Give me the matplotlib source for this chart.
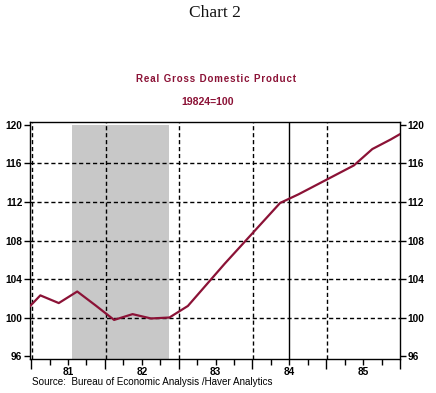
import numpy as np
import matplotlib
matplotlib.use("Agg")
from matplotlib import pyplot as plt

# quarterly real GDP index, 1982Q4 = 100
quarters = ['80Q4',
            '81Q1', '81Q2', '81Q3', '81Q4',
            '82Q1', '82Q2', '82Q3', '82Q4',
            '83Q1', '83Q2', '83Q3', '83Q4',
            '84Q1', '84Q2', '84Q3', '84Q4',
            '85Q1', '85Q2', '85Q3', '85Q4',
            '86Q1']
gdp = [100.3,
       102.3, 101.5, 102.7, 101.25,
       99.75, 100.35, 99.9, 100.0,
       101.2, 103.4, 105.6, 107.7,
       109.8, 111.9, 112.8, 113.8,
       114.8, 115.8, 117.5, 118.5,
       119.6]

years = [1981, 1982, 1983, 1984, 1985]
year_labels = ['81', '82', '83', '84', '85']
y_ticks = [96, 100, 104, 108, 112, 116, 120]
recession = (1981.55, 1982.87)
marker_year = 1984.5

wine = '#8b1236'

# quarter -> decimal year at mid-quarter
xq = [1900 + int(q[:2]) + (int(q[-1]) - 1) * 0.25 + 0.125 for q in quarters]

fig = plt.figure(figsize=(4.36, 3.93), dpi=100)
ax = fig.add_axes([30 / 436, 1 - 359 / 393, 370 / 436, 237 / 393])

ylo, yhi = 95.69, 120.31
ax.set_ylim(ylo, yhi)
ax.set_xlim(1980.985, 1986.0)

# recession shading up to 120
ax.axvspan(recession[0], recession[1], ymin=0, ymax=(120 - ylo) / (yhi - ylo),
           color='#c8c8c8', lw=0, zorder=0)

# grid
for yv in y_ticks[1:-1]:
    ax.axhline(yv, color='black', lw=1, ls=(0, (3, 2)), zorder=1)
for yr in years:
    ax.axvline(yr + 0.01, color='black', lw=1, ls=(0, (3, 2)), zorder=1)
ax.axvline(marker_year, color='black', lw=1, zorder=1)

ax.plot(xq, gdp, color=wine, lw=1.6, zorder=3)

# ticks
tick_font = dict(family=['Liberation Sans', 'DejaVu Sans'], weight='bold', size=7.3)
ax.set_yticks(y_ticks)
ax.set_yticklabels([str(v) for v in y_ticks], fontdict=tick_font)
ax.tick_params(axis='y', left=True, right=True, labelleft=True, labelright=True,
               direction='out', length=4, width=1, pad=1.5)

ax.set_xticks(years + [1986])
ax.set_xticklabels([''] * 6)
ax.tick_params(axis='x', which='major', direction='out', length=7, width=1)
minor_pos = [y + q * 0.25 for y in years for q in (1, 2, 3)]
minor_lab = [year_labels[i // 3] if i % 3 == 1 else '' for i in range(len(minor_pos))]
ax.set_xticks(minor_pos, minor=True)
ax.set_xticklabels(minor_lab, minor=True, fontdict=tick_font)
ax.tick_params(axis='x', which='minor', direction='out', length=4, width=1, pad=1.5)

for s in ax.spines.values():
    s.set_linewidth(1)

# titles
fig.text(215 / 436, 1 - 13 / 393, 'Chart 2', ha='center', va='center',
         family=['Liberation Serif', 'DejaVu Serif'], size=12.5, color='#111111')
title = '\u200a'.join('Real Gross Domestic Product')
fig.text(215.5 / 436, 1 - 79 / 393, title, ha='center', va='center',
         family=['Liberation Sans', 'DejaVu Sans'], weight='bold', size=7, color=wine)
fig.text(208 / 436, 1 - 102 / 393, '19824=100', ha='center', va='center',
         family=['Liberation Sans', 'DejaVu Sans'], weight='bold', size=7.6, color=wine)
fig.text(32 / 436, 1 - 382 / 393, 'Source:  Bureau of Economic Analysis /Haver Analytics',
         ha='left', va='center', family=['Liberation Sans', 'DejaVu Sans'], size=7.1,
         color='black')

fig.savefig('out.png', dpi=100)
